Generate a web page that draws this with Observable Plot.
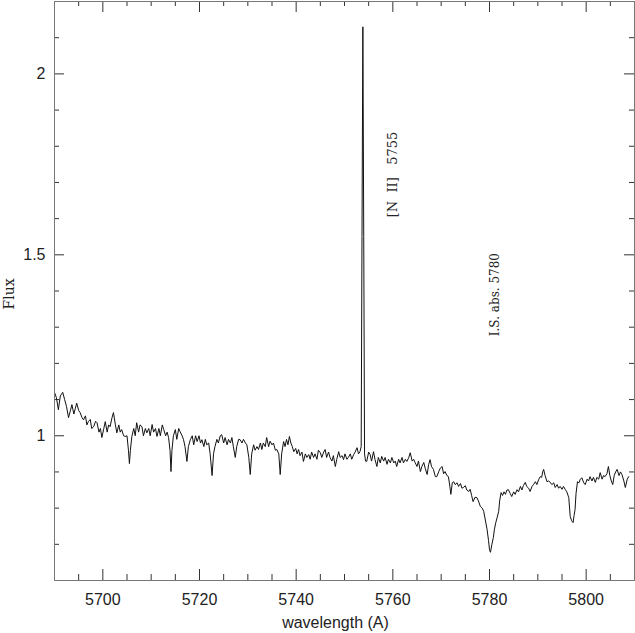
<!DOCTYPE html>
<html><head><meta charset="utf-8">
<script src="https://cdn.jsdelivr.net/npm/d3@7"></script>
<script src="https://cdn.jsdelivr.net/npm/@observablehq/plot@0.6"></script>
<style>body{margin:0;background:#fff}</style>
</head><body><div id="chart"></div>
<script>
const wavelength = [
5690.0,5690.4,5690.8,5691.2,5691.7,5692.1,5692.5,5692.9,5693.3,5693.6,5694.0,5694.3,5694.6,5695.0,5695.3,5695.7,5696.0,5696.4,5696.7,5697.0,
5697.4,5697.7,5698.1,5698.5,5698.8,5699.2,5699.5,5699.8,5700.2,5700.5,5700.9,5701.2,5701.5,5701.9,5702.2,5702.6,5702.9,5703.3,5703.6,5703.9,
5704.3,5704.6,5705.0,5705.3,5705.5,5705.7,5706.0,5706.4,5706.7,5707.0,5707.4,5707.7,5708.1,5708.4,5708.8,5709.1,5709.5,5709.8,5710.2,5710.5,
5710.9,5711.2,5711.6,5711.9,5712.3,5712.6,5713.0,5713.3,5713.6,5713.9,5714.1,5714.3,5714.6,5715.0,5715.3,5715.7,5716.0,5716.4,5716.7,5717.0,
5717.4,5717.7,5718.1,5718.5,5718.8,5719.2,5719.5,5719.9,5720.2,5720.5,5720.9,5721.2,5721.5,5721.9,5722.2,5722.6,5722.9,5723.2,5723.6,5723.9,
5724.3,5724.6,5725.0,5725.3,5725.7,5726.0,5726.4,5726.7,5727.0,5727.4,5727.7,5728.1,5728.4,5728.8,5729.1,5729.5,5729.8,5730.2,5730.5,5730.8,
5731.2,5731.5,5731.9,5732.2,5732.6,5732.9,5733.2,5733.6,5733.9,5734.3,5734.6,5735.0,5735.3,5735.7,5736.0,5736.4,5736.7,5737.0,5737.4,5737.7,
5738.0,5738.3,5738.6,5738.9,5739.2,5739.5,5739.9,5740.2,5740.5,5740.8,5741.2,5741.5,5741.9,5742.2,5742.6,5742.9,5743.2,5743.6,5743.9,5744.3,
5744.6,5745.0,5745.3,5745.7,5746.0,5746.3,5746.7,5747.0,5747.4,5747.7,5748.1,5748.4,5748.8,5749.1,5749.5,5749.8,5750.1,5750.5,5750.8,5751.2,
5751.5,5751.9,5752.2,5752.6,5752.9,5753.2,5753.45,5753.62,5753.8,5753.98,5754.15,5754.35,5754.6,5755.0,5755.3,5755.6,5756.0,5756.3,5756.7,5757.0,
5757.4,5757.7,5758.1,5758.4,5758.8,5759.1,5759.5,5759.8,5760.2,5760.5,5760.8,5761.2,5761.5,5761.9,5762.2,5762.6,5762.9,5763.3,5763.6,5764.0,
5764.3,5764.6,5765.0,5765.3,5765.7,5766.0,5766.4,5766.7,5767.1,5767.4,5767.7,5768.0,5768.4,5768.8,5769.1,5769.5,5769.8,5770.2,5770.5,5770.8,
5771.2,5771.5,5771.8,5772.0,5772.3,5772.6,5772.9,5773.3,5773.6,5774.0,5774.3,5774.6,5775.0,5775.3,5775.7,5776.0,5776.3,5776.6,5777.0,5777.4,
5777.7,5778.1,5778.5,5778.8,5779.1,5779.5,5779.8,5780.0,5780.2,5780.5,5780.8,5781.0,5781.3,5781.6,5781.9,5782.1,5782.4,5782.7,5783.0,5783.3,
5783.6,5783.9,5784.3,5784.6,5785.0,5785.3,5785.7,5786.0,5786.4,5786.7,5787.0,5787.4,5787.7,5788.1,5788.4,5788.8,5789.1,5789.5,5789.8,5790.2,
5790.5,5790.8,5791.0,5791.2,5791.5,5791.9,5792.2,5792.6,5792.9,5793.3,5793.6,5794.0,5794.3,5794.6,5795.0,5795.3,5795.7,5796.0,5796.4,5796.7,
5797.0,5797.3,5797.5,5797.7,5797.9,5798.2,5798.5,5798.8,5799.1,5799.5,5799.8,5800.2,5800.5,5800.8,5801.2,5801.5,5801.9,5802.2,5802.6,5802.9,
5803.3,5803.6,5803.9,5804.3,5804.6,5804.9,5805.2,5805.5,5805.8,5806.1,5806.4,5806.8,5807.1,5807.4,5807.8,5808.1,5808.5,5808.8
];
const flux = [
1.12,1.105,1.072,1.11,1.12,1.10,1.08,1.05,1.07,1.086,1.06,1.075,1.09,1.07,1.064,1.05,1.044,1.055,1.03,1.039,
1.045,1.02,1.025,1.04,1.036,1.01,1.02,0.995,1.02,1.039,1.01,1.03,1.025,1.05,1.064,1.03,1.008,1.03,1.01,1.017,
1.00,0.998,1.00,0.96,0.923,0.96,0.998,1.02,1.00,1.036,1.01,1.03,1.025,1.00,1.02,1.008,1.02,1.00,1.031,1.01,
1.02,0.998,1.02,1.00,1.03,1.017,1.00,1.01,0.995,0.96,0.901,0.96,1.00,1.017,0.99,1.02,1.011,1.00,0.989,0.97,
0.929,0.97,0.989,1.00,0.975,1.00,0.984,1.00,0.98,0.989,0.97,0.99,0.975,0.98,0.95,0.890,0.95,0.970,0.99,0.98,
1.00,1.003,0.98,0.995,0.975,0.99,0.98,0.995,0.97,0.94,0.97,0.99,0.989,0.98,0.99,0.98,0.975,0.94,0.893,0.95,
0.975,0.96,0.97,0.962,0.98,0.962,0.98,0.97,0.995,0.97,0.985,0.975,0.98,0.96,0.962,0.95,0.893,0.95,0.984,0.97,
0.99,0.975,0.998,0.98,0.97,0.956,0.965,0.95,0.962,0.945,0.955,0.929,0.95,0.94,0.948,0.935,0.955,0.94,0.95,0.935,
0.96,0.953,0.94,0.955,0.962,0.94,0.955,0.94,0.93,0.945,0.915,0.935,0.956,0.94,0.945,0.934,0.95,0.935,0.94,0.95,
0.935,0.948,0.955,0.967,0.95,0.956,0.97,1.55,2.13,1.55,0.95,0.93,0.929,0.955,0.948,0.93,0.956,0.935,0.915,0.94,
0.925,0.943,0.93,0.94,0.921,0.935,0.925,0.94,0.925,0.93,0.915,0.935,0.925,0.94,0.925,0.935,0.929,0.94,0.953,0.93,
0.935,0.926,0.915,0.93,0.901,0.915,0.926,0.91,0.893,0.92,0.934,0.915,0.907,0.887,0.887,0.901,0.91,0.915,0.895,0.901,
0.89,0.887,0.86,0.838,0.87,0.873,0.865,0.87,0.86,0.868,0.855,0.857,0.862,0.85,0.846,0.852,0.835,0.818,0.83,0.829,
0.82,0.805,0.80,0.791,0.77,0.741,0.71,0.685,0.678,0.70,0.719,0.74,0.76,0.775,0.791,0.82,0.843,0.835,0.845,0.838,
0.85,0.851,0.84,0.832,0.845,0.838,0.851,0.845,0.86,0.85,0.862,0.871,0.86,0.855,0.846,0.86,0.865,0.873,0.865,0.88,
0.887,0.885,0.90,0.907,0.89,0.873,0.875,0.871,0.865,0.87,0.857,0.865,0.855,0.86,0.852,0.86,0.851,0.845,0.829,0.777,
0.765,0.76,0.78,0.796,0.84,0.873,0.87,0.88,0.884,0.87,0.865,0.88,0.875,0.887,0.875,0.885,0.871,0.885,0.88,0.898,
0.88,0.89,0.887,0.895,0.915,0.89,0.875,0.865,0.89,0.90,0.907,0.89,0.90,0.893,0.875,0.857,0.88,0.887
];
const xMajorTicks = [5700, 5720, 5740, 5760, 5780, 5800];
const xMinorTicks = [5695, 5705, 5710, 5715, 5725, 5730, 5735, 5745, 5750, 5755, 5765, 5770, 5775, 5785, 5790, 5795, 5805];
const yMajorTicks = [1, 1.5, 2];
const yMinorTicks = [0.7, 0.8, 0.9, 1.1, 1.2, 1.3, 1.4, 1.6, 1.7, 1.8, 1.9, 2.1];
const annotationLabels = ["[N\u00a0\u00a0II]\u00a0\u00a0\u00a05755", "I.S. abs. 5780"];
const annotationWavelength = [5759.9, 5781.2];
const annotationFlux = [1.722, 1.39];
const xLabel = "wavelength (A)";
const yLabel = "Flux";

const spectrum = wavelength.map((w, i) => ({w, f: flux[i]}));
const annotations = annotationLabels.map((label, i) => ({label, w: annotationWavelength[i], f: annotationFlux[i]}));

const W = 635, H = 633, mt = 1, mb = 53, ml = 54, mr = 1;
const ph = H - mt - mb, pw = W - ml - mr;
const tickColor = "#333";
const serif = "'DejaVu Serif', 'Liberation Serif', serif";

const chart = Plot.plot({
  width: W, height: H,
  marginTop: mt, marginBottom: mb, marginLeft: ml, marginRight: mr,
  style: {fontFamily: "'Liberation Sans', Arial, Helvetica, sans-serif", fontSize: "16px", background: "#fff", color: "#222"},
  x: {domain: [5690, 5810]},
  y: {domain: [0.6, 2.2]},
  marks: [
    Plot.axisX(xMajorTicks, {tickSize: 0, tickPadding: 13, label: null, tickFormat: d => String(d)}),
    Plot.axisY(yMajorTicks, {tickSize: 0, tickPadding: 9, label: null, tickFormat: d => String(d)}),
    Plot.tickX(xMajorTicks, {x: d => d, insetTop: ph - 11, stroke: tickColor}),
    Plot.tickX(xMinorTicks, {x: d => d, insetTop: ph - 6, stroke: tickColor}),
    Plot.tickX(xMajorTicks, {x: d => d, insetBottom: ph - 11, stroke: tickColor}),
    Plot.tickX(xMinorTicks, {x: d => d, insetBottom: ph - 5, stroke: tickColor}),
    Plot.tickY(yMajorTicks, {y: d => d, insetRight: pw - 10, stroke: tickColor}),
    Plot.tickY(yMinorTicks, {y: d => d, insetRight: pw - 5, stroke: tickColor}),
    Plot.tickY(yMajorTicks, {y: d => d, insetLeft: pw - 10, stroke: tickColor}),
    Plot.tickY(yMinorTicks, {y: d => d, insetLeft: pw - 5, stroke: tickColor}),
    Plot.line(spectrum, {x: "w", y: "f", stroke: "#111", strokeWidth: 1}),
    Plot.frame({stroke: "#777"}),
    Plot.text(annotations.slice(0, 1), {x: "w", y: "f", text: "label", rotate: -90, textAnchor: "middle", lineAnchor: "middle", fontFamily: serif, fontSize: 13, fill: "#222"}),
    Plot.text(annotations.slice(1), {x: "w", y: "f", text: "label", rotate: -90, textAnchor: "middle", lineAnchor: "middle", fontFamily: serif, fontSize: 12, fill: "#222"}),
    Plot.text([xLabel], {text: d => d, frameAnchor: "bottom", textAnchor: "middle", lineAnchor: "middle", dx: -9, dy: 42, fontSize: 16, fill: "#222"}),
    Plot.text([yLabel], {text: d => d, frameAnchor: "left", textAnchor: "middle", lineAnchor: "middle", rotate: -90, dx: -45, dy: 3, fontFamily: serif, fontSize: 14, fill: "#222"})
  ]
});
document.getElementById("chart").appendChild(chart);
</script>
</body></html>
